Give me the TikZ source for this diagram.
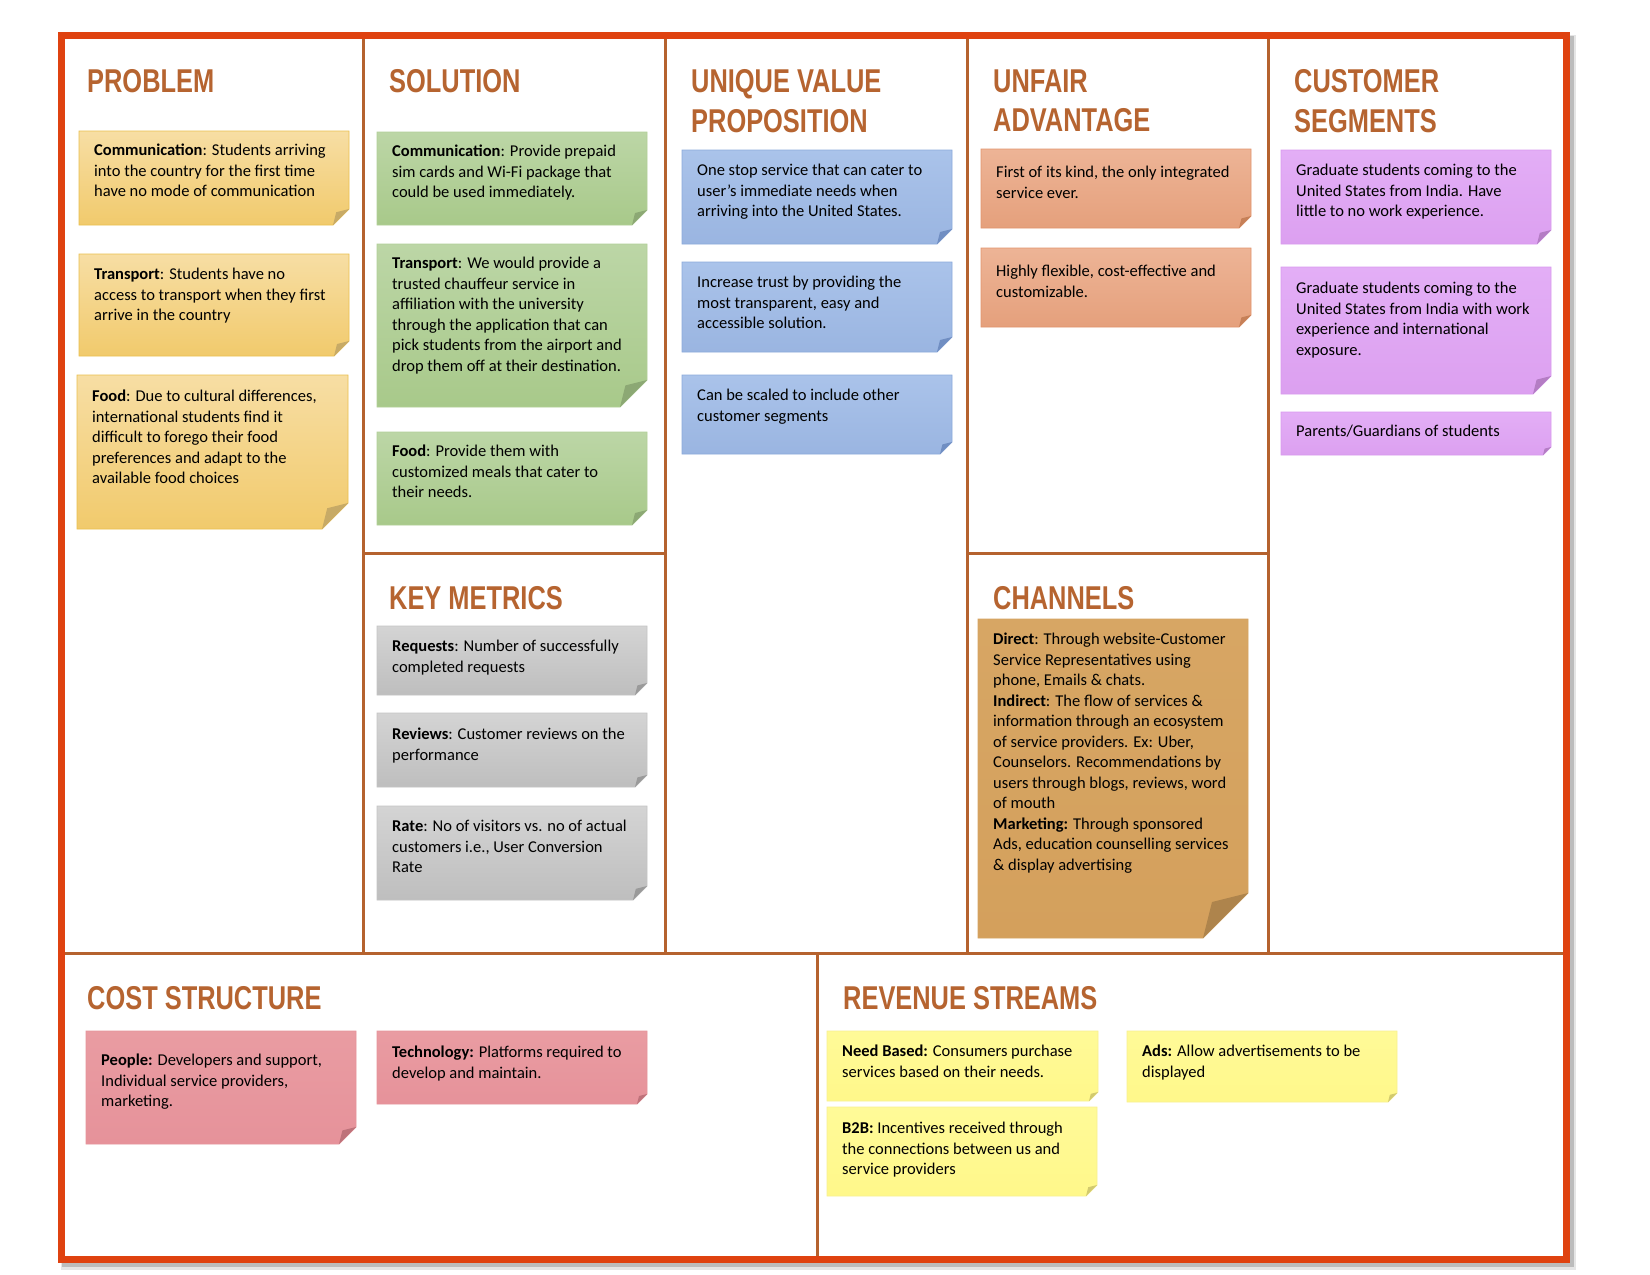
\documentclass[tikz,border=0pt]{standalone}
\usepackage{fontspec}
\setmainfont{Carlito}
\newfontfamily\hdfont[FakeStretch=0.77]{Liberation Sans}
\definecolor{framec}{HTML}{DF4210}
\definecolor{divc}{HTML}{B5622E}
\definecolor{hdrc}{HTML}{B66430}
% problem
\definecolor{pbT}{HTML}{F7DEA4}\definecolor{pbB}{HTML}{F1CA6C}\definecolor{pbL}{HTML}{EBC04E}\definecolor{pbF}{HTML}{C7AA66}
% solution
\definecolor{slT}{HTML}{BCD6A6}\definecolor{slB}{HTML}{A8C98A}\definecolor{slL}{HTML}{B2CF98}\definecolor{slF}{HTML}{8CA874}
% key metrics
\definecolor{kmT}{HTML}{D4D4D4}\definecolor{kmB}{HTML}{BEBEBE}\definecolor{kmL}{HTML}{C4C4C4}\definecolor{kmF}{HTML}{9A9A9A}
% uvp
\definecolor{uvT}{HTML}{AAC3EA}\definecolor{uvB}{HTML}{9AB5E1}\definecolor{uvL}{HTML}{8BAADB}\definecolor{uvF}{HTML}{708EC2}
% unfair
\definecolor{ufT}{HTML}{EDB496}\definecolor{ufB}{HTML}{E5A07C}\definecolor{ufL}{HTML}{E2946C}\definecolor{ufF}{HTML}{C68058}
% channels
\definecolor{chT}{HTML}{D7A664}\definecolor{chB}{HTML}{D4A05C}\definecolor{chL}{HTML}{D6A462}\definecolor{chF}{HTML}{AE844C}
% customer
\definecolor{csT}{HTML}{E3AEF6}\definecolor{csB}{HTML}{DCA0F0}\definecolor{csL}{HTML}{D99AEE}\definecolor{csF}{HTML}{B47DC4}
% cost
\definecolor{ctT}{HTML}{E99CA2}\definecolor{ctB}{HTML}{E6929A}\definecolor{ctL}{HTML}{E6949B}\definecolor{ctF}{HTML}{BE727A}
% revenue
\definecolor{rvT}{HTML}{FFFA98}\definecolor{rvB}{HTML}{FFF88A}\definecolor{rvL}{HTML}{F8F090}\definecolor{rvF}{HTML}{D2CA6E}
% #1 name, #2 colour key, #3 x1, #4 y1, #5 x2, #6 y2, #7 fold, #8 text top offset, #9 text
\newcommand\snote[9]{%
  \shade[top color=#2T, bottom color=#2B, draw=#2L, line width=0.8]
    (#3,#4) -- (#5,#4) -- (#5,#6-#7) -- (#5-#7,#6) -- (#3,#6) -- cycle;
  \fill[#2F] (#5,#6-#7) -- (#5-0.8*#7,#6-0.8*#7) -- (#5-#7,#6) -- cycle;
  \node[notetext] (#1) at (#3+15,#4+#8) {\strut #9};
}
\begin{document}
\begin{tikzpicture}[x=1pt,y=-1pt,
  divider/.style={draw=divc, line width=3},
  frame/.style={draw=framec, line width=7},
  hdr/.style={anchor=north west, inner sep=0, font=\hdfont\bfseries\fontsize{33}{39.5}\selectfont, text=hdrc, align=left},
  notetext/.style={anchor=north west, inner sep=0, font=\fontsize{16.5}{20.5}\selectfont, align=left, text=black},
]
\useasboundingbox (0,0) rectangle (1650,1275);
% shadow
\draw[line width=10, black, opacity=0.10] (66,40) rectangle (1571,1265);
\draw[line width=7, black, opacity=0.18] (65,39) rectangle (1570,1263.5);
\fill[white] (61.5,35) rectangle (1566,1259.5);
% dividers
\draw[divider] (363,35) -- (363,953);
\draw[divider] (665,35) -- (665,953);
\draw[divider] (967,35) -- (967,953);
\draw[divider] (1268,35) -- (1268,953);
\draw[divider] (61.5,953) -- (1566,953);
\draw[divider] (363,553) -- (665,553);
\draw[divider] (967,553) -- (1268,553);
\draw[divider] (817,953) -- (817,1259.5);
% frame
\draw[frame] (61.5,35) rectangle (1566,1259.5);

% headers
\node[hdr] (hproblem) at (87,69.4) {PROBLEM};
\node[hdr] (hsolution) at (389,69.4) {SOLUTION};
\node[hdr] (huvp) at (691,69.4) {UNIQUE VALUE\\PROPOSITION};
\node[hdr] (hunfair) at (993,69.4) {UNFAIR\\ADVANTAGE};
\node[hdr] (hcustomer) at (1294,69.4) {CUSTOMER\\SEGMENTS};
\node[hdr] (hkey) at (389,586.4) {KEY METRICS};
\node[hdr] (hchannels) at (993,586.4) {CHANNELS};
\node[hdr] (hcost) at (87,986.4) {COST STRUCTURE};
\node[hdr] (hrevenue) at (843,986.4) {REVENUE STREAMS};

% problem
\snote{p1}{pb}{79}{131}{349}{225}{16}{10}{\textbf{Communication}: Students arriving\\into the country for the first time\\have no mode of communication}
\snote{p2}{pb}{79}{254}{349}{356}{15}{11}{\textbf{Transport}: Students have no\\access to transport when they first\\arrive in the country}
\snote{p3}{pb}{77}{375}{348}{529}{26}{12}{\textbf{Food}: Due to cultural differences,\\international students find it\\difficult to forego their food\\preferences and adapt to the\\available food choices}
% solution
\snote{s1}{sl}{377}{132}{647}{225}{15}{10}{\textbf{Communication}: Provide prepaid\\sim cards and Wi-Fi package that\\could be used immediately.}
\snote{s2}{sl}{377}{244}{647}{407}{27}{10}{\textbf{Transport}: We would provide a\\trusted chauffeur service in\\affiliation with the university\\through the application that can\\pick students from the airport and\\drop them off at their destination.}
\snote{s3}{sl}{377}{432}{647}{525}{15}{10}{\textbf{Food}: Provide them with\\customized meals that cater to\\their needs.}
% key metrics
\snote{k1}{km}{377}{626}{647}{695}{12}{11}{\textbf{Requests}: Number of successfully\\completed requests}
\snote{k2}{km}{377}{713}{647}{787}{12}{12}{\textbf{Reviews}: Customer reviews on the\\performance}
\snote{k3}{km}{377}{806}{647}{900}{14}{11}{\textbf{Rate}: No of visitors vs. no of actual\\customers i.e., User Conversion\\Rate}
% uvp
\snote{u1}{uv}{682}{150}{952}{244}{15}{11}{One stop service that can cater to\\user's immediate needs when\\arriving into the United States.}
\snote{u2}{uv}{682}{262}{952}{352}{15}{11}{Increase trust by providing the\\most transparent, easy and\\accessible solution.}
\snote{u3}{uv}{682}{375}{952}{454}{12}{11}{Can be scaled to include other\\customer segments}
% unfair
\snote{a1}{uf}{981}{149}{1251}{228}{12}{14}{First of its kind, the only integrated\\service ever.}
\snote{a2}{uf}{981}{248}{1251}{327}{12}{14}{Highly flexible, cost-effective and\\customizable.}
% channels
\snote{ch}{ch}{978}{619}{1248}{938}{45}{11}{\textbf{Direct}: Through website-Customer\\Service Representatives using\\phone, Emails \& chats.\\\textbf{Indirect}: The flow of services \&\\information through an ecosystem\\of service providers. Ex: Uber,\\Counselors. Recommendations by\\users through blogs, reviews, word\\of mouth\\\textbf{Marketing:} Through sponsored\\Ads, education counselling services\\\& display advertising}
% customer segments
\snote{g1}{cs}{1281}{150}{1551}{244}{14}{11}{Graduate students coming to the\\United States from India. Have\\little to no work experience.}
\snote{g2}{cs}{1281}{267}{1551}{394}{18}{12}{Graduate students coming to the\\United States from India with work\\experience and international\\exposure.}
\snote{g3}{cs}{1281}{412}{1551}{455}{8}{10}{Parents/Guardians of students}
% cost
\snote{t1}{ct}{86}{1031}{356}{1144}{17}{20}{\textbf{People:} Developers and support,\\Individual service providers,\\marketing.}
\snote{t2}{ct}{377}{1031}{647}{1104}{10}{12}{\textbf{Technology:} Platforms required to\\develop and maintain.}
% revenue
\snote{r1}{rv}{827}{1031}{1098}{1101}{9}{11}{\textbf{Need Based:} Consumers purchase\\services based on their needs.}
\snote{r2}{rv}{827}{1107}{1097}{1196}{11}{12}{\textbf{B2B:} Incentives received through\\the connections between us and\\service providers}
\snote{r3}{rv}{1127}{1031}{1397}{1102}{9}{11}{\textbf{Ads:} Allow advertisements to be\\displayed}
\end{tikzpicture}
\end{document}
